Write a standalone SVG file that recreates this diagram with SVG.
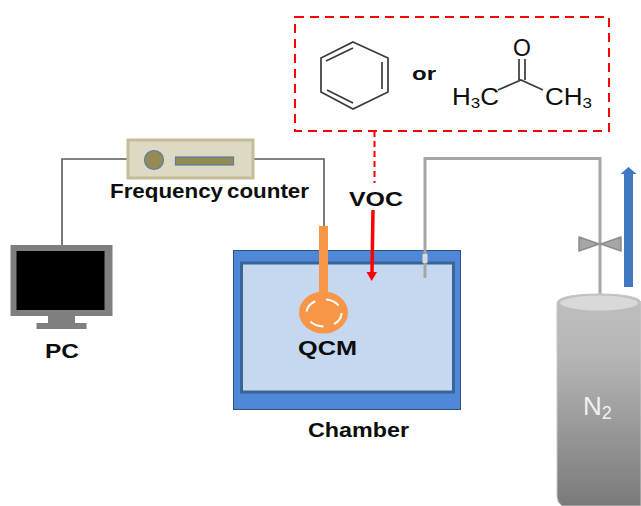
<svg xmlns="http://www.w3.org/2000/svg" width="641" height="506" viewBox="0 0 641 506">
<style>
text{font-family:"Liberation Sans",Arial,sans-serif;fill:#0d0d0d}
.b{font-weight:700}
.w{fill:none;stroke:#595959;stroke-width:1.6}
.mol{fill:none;stroke:#3a3a3a;stroke-width:1.7}
.t{fill:none;stroke:#a6a6a6;stroke-width:3}
</style>
<defs>
<linearGradient id="cyl" x1="0" y1="0" x2="0" y2="1"><stop offset="0" stop-color="#bfbfbf"/><stop offset=".3" stop-color="#b5b5b5"/><stop offset="1" stop-color="#7a7a7a"/></linearGradient>
</defs>
<rect width="641" height="506" fill="#fff"/>
<g id="chamber">
<rect x="233.500" y="250.500" width="227" height="159" fill="#4f88d8" stroke="#2f4f7a" stroke-width="1"/>
<rect x="241.500" y="263" width="212" height="129" fill="#c5d8f0" stroke="#3a6496" stroke-width="3"/>
<text class="b" x="308" y="437" font-size="20" textLength="101" lengthAdjust="spacingAndGlyphs">Chamber</text>
</g>
<g id="connectors">
<path class="w" d="M62 245V159H127"/>
<path class="w" d="M254 159H324V227"/>
<path d="M374.500 131V183" fill="none" stroke="#f00" stroke-width="2" stroke-dasharray="6 4"/>
<path d="M373 210L372 273" fill="none" stroke="#f00" stroke-width="3.500"/>
<path d="M366.500 272H377L371.700 281Z" fill="#f00"/>
<path class="t" d="M425 278V158.500H600V295"/>
</g>
<g id="voc-box">
<rect x="295" y="17" width="314" height="114" fill="none" stroke="#f00" stroke-width="2" stroke-dasharray="9 6"/>
<path class="mol" d="M353 42L388 58V92L353 109L321 92V58Z"/>
<path class="mol" d="M353 48L326 61M382 62V89M327 90L353 103"/>
<text class="b" x="412" y="80" font-size="19" textLength="24" lengthAdjust="spacingAndGlyphs">or</text>
<path class="mol" d="M498 90L521 80L543 90M519 80V59M525 80V59"/>
<text x="522" y="56" font-size="23" text-anchor="middle" fill="#262626">O</text>
<text x="452" y="105" font-size="23" textLength="47" lengthAdjust="spacingAndGlyphs">H<tspan font-size="15" dy="3">3</tspan><tspan dy="-3">C</tspan></text>
<text x="545" y="105" font-size="23" textLength="47" lengthAdjust="spacingAndGlyphs">CH<tspan font-size="15" dy="3">3</tspan></text>
</g>
<g id="voc-label"><text class="b" x="349" y="206" font-size="21" textLength="54" lengthAdjust="spacingAndGlyphs">VOC</text></g>
<g id="frequency-counter">
<rect x="128" y="140" width="125" height="38" fill="#ddd9c3" stroke="#c4bd97" stroke-width="3"/>
<circle cx="154" cy="160" r="9.500" fill="#948a54" stroke="#5b7fa3" stroke-width="1.200"/>
<rect x="175.500" y="157" width="58" height="8" fill="#948a54" stroke="#5b7fa3" stroke-width="1.200"/>
<text class="b" x="110" y="198" font-size="20" word-spacing="-2" textLength="199" lengthAdjust="spacingAndGlyphs">Frequency counter</text>
</g>
<g id="pc">
<rect x="10.500" y="245" width="102" height="71" fill="#7f7f7f"/>
<rect x="16.500" y="251" width="88" height="59" fill="#000"/>
<rect x="48" y="316" width="27" height="8" fill="#7f7f7f"/>
<rect x="36.500" y="323" width="50" height="6" fill="#7f7f7f"/>
<text class="b" x="45" y="358" font-size="20" textLength="34" lengthAdjust="spacingAndGlyphs">PC</text>
</g>
<g id="qcm">
<rect x="319" y="226" width="9" height="70" fill="#f79646"/>
<ellipse cx="323.500" cy="312.500" rx="24.500" ry="21" fill="#f79646"/>
<ellipse cx="324" cy="313" rx="17.500" ry="13.500" fill="none" stroke="#fff" stroke-width="2" stroke-dasharray="14 11"/>
<text class="b" x="298" y="355" font-size="20" textLength="59" lengthAdjust="spacingAndGlyphs">QCM</text>
</g>
<g id="inlet-tube"><rect x="422.500" y="254" width="5" height="9" fill="#d9d9d9"/></g>
<g id="valve">
<path d="M579 237L599 244L579 251Z M621 237L601 244L621 251Z" fill="#a6a6a6" stroke="#8c8c8c" stroke-width="1.500" stroke-linejoin="round"/>
</g>
<g id="flow-arrow"><path d="M624 287V174H620.500L628.500 167L636.500 174H633V287Z" fill="#3f78c0"/></g>
<g id="n2-cylinder">
<path d="M557 303C557 297 575 294 599 294S641 297 641 303V506H562Q557 502 557 497Z" fill="url(#cyl)" stroke="#c8c8c8" stroke-width="1"/>
<ellipse cx="599" cy="303" rx="39" ry="7.500" fill="#d9d9d9"/>
<text x="583" y="415" font-size="26" style="fill:#f2f2f2">N<tspan font-size="18" dy="4">2</tspan></text>
</g>
</svg>
